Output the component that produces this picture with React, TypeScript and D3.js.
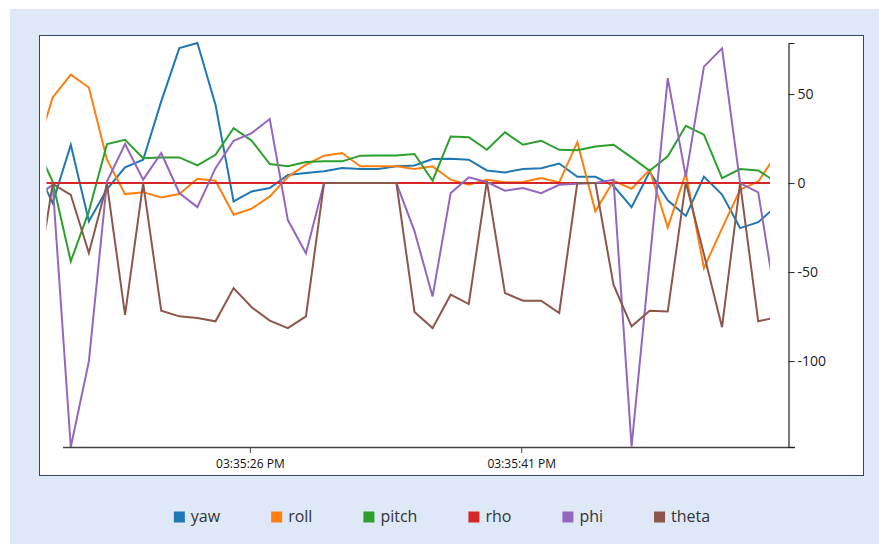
import React, { useEffect, useRef } from "react";
import * as d3 from "d3";

const times = [
  "15:35:14.100", "15:35:15.100", "15:35:16.100", "15:35:17.100", "15:35:18.100", "15:35:19.100",
  "15:35:20.100", "15:35:21.100", "15:35:22.100", "15:35:23.100", "15:35:24.100", "15:35:25.100",
  "15:35:26.100", "15:35:27.100", "15:35:28.100", "15:35:29.100", "15:35:30.100", "15:35:31.100",
  "15:35:32.100", "15:35:33.100", "15:35:34.100", "15:35:35.100", "15:35:36.100", "15:35:37.100",
  "15:35:38.100", "15:35:39.100", "15:35:40.100", "15:35:41.100", "15:35:42.100", "15:35:43.100",
  "15:35:44.100", "15:35:45.100", "15:35:46.100", "15:35:47.100", "15:35:48.100", "15:35:49.100",
  "15:35:50.100", "15:35:51.100", "15:35:52.100", "15:35:53.100", "15:35:54.100", "15:35:55.100",
];

const seriesNames = ["yaw", "roll", "pitch", "rho", "phi", "theta"];

const yaw = [10, -11.2, 21.5, -21.5, -3.5, 8.8, 13.1, 45.9, 75.8, 78.7, 44, -10.3, -4.7, -2.8, 4.5, 5.6, 6.6, 8.4, 7.9, 7.9, 9.4, 9.9, 13.5, 13.7, 13.1, 7.1, 6.0, 7.9, 8.3, 11, 3.5, 3.5, -1.5, -13.5, 6.3, -9.7, -18.5, 3.6, -6.5, -25.3, -22, -13];
const roll = [15, 48.1, 60.9, 53.7, 13.1, -6.2, -5.1, -8.1, -6.2, 2.4, 1.3, -17.8, -14.4, -7.5, 3.5, 10.3, 15.4, 16.9, 9.4, 9.4, 9.4, 7.9, 9.4, 1.9, -0.9, 1.9, 0.4, 0.6, 2.8, 0.4, 23, -15.9, 1.3, -3.2, 7.5, -24.9, 5.6, -47.8, -25.5, -3.7, 0.9, 15.9];
const pitch = [23, 0.7, -44, -15.9, 21.9, 24.3, 14, 14.4, 14.4, 9.9, 15.9, 30.9, 23.8, 10.7, 9.4, 11.8, 12.2, 12.2, 15.4, 15.5, 15.5, 16.3, 1.3, 26.2, 25.8, 18.7, 28.5, 21.5, 23.8, 18.7, 18.4, 20.6, 21.5, 14.4, 6.9, 15, 32.2, 27.2, 2.8, 7.9, 7.1, 0.5];
const rho = [0, 0, 0, 0, 0, 0, 0, 0, 0, 0, 0, 0, 0, 0, 0, 0, 0, 0, 0, 0, 0, 0, 0, 0, 0, 0, 0, 0, 0, 0, 0, 0, 0, 0, 0, 0, 0, 0, 0, 0, 0, 0];
const phi = [-8, -1, -148.3, -100.2, 0.9, 21.9, 1.9, 16.9, -5.6, -13.5, 8.4, 23.8, 28.1, 36, -20.8, -39.4, 0, 0, 0, 0, 0, -27, -63.7, -5.6, 3.2, 0.6, -4.3, -2.8, -5.7, -1, -0.4, 0, 1.9, -148, -44, 59, 3.5, 65.4, 75.7, 0, -5.2, -68];
const theta = [-65, -0.5, -6.6, -39.3, -0.5, -74, 0, -71.7, -74.9, -75.8, -77.7, -59, -69.8, -77.3, -81.5, -74.9, 0, 0, 0, 0, 0, -72.5, -81.5, -62.7, -68, 1, -61.8, -66.1, -66.1, -73, 0, 0, -57.1, -80.5, -71.7, -72.1, 0.5, -40, -81, 0, -77.7, -75.5];

const xTickValues = ["15:35:26", "15:35:41"];
const yTickValues = [50, 0, -50, -100];
const seriesColors = ["#1f77b4", "#ff7f0e", "#2ca02c", "#d62728", "#9467bd", "#8c564b"];

const FONT = "'Open Sans', sans-serif";

export default function App() {
  const ref = useRef<SVGSVGElement>(null);

  useEffect(() => {
    const svg = d3.select(ref.current);
    svg.selectAll("*").remove();

    const parseT = d3.timeParse("%H:%M:%S.%L");
    const parseTick = d3.timeParse("%H:%M:%S");
    const dates = times.map((t) => parseT(t) as Date);
    const seriesValues = [yaw, roll, pitch, rho, phi, theta];
    const series = seriesNames.map((name, i) => ({
      name,
      color: seriesColors[i],
      points: dates.map((d, j) => ({ t: d, v: seriesValues[i][j] })),
    }));

    const all = seriesValues.flat();
    const x = d3.scaleTime().domain(d3.extent(dates) as [Date, Date]).range([34.6, 776.3]);
    const y = d3.scaleLinear().domain(d3.extent(all) as [number, number]).range([447, 43]);

    // backgrounds
    svg.append("rect").attr("x", 10).attr("y", 9).attr("width", 880).attr("height", 540).attr("fill", "#dfe8f7");
    svg.append("rect").attr("x", 39.5).attr("y", 35.5).attr("width", 824).attr("height", 440)
      .attr("fill", "#ffffff").attr("stroke", "#34495e").attr("stroke-width", 1);

    const defs = svg.append("defs");
    defs.append("clipPath").attr("id", "plotclip").append("rect")
      .attr("x", 46.5).attr("y", 36).attr("width", 770 - 46.5).attr("height", 438);

    const line = d3.line<{ t: Date; v: number }>().x((d) => x(d.t)).y((d) => y(d.v));

    const lines = svg.append("g").attr("clip-path", "url(#plotclip)");
    series.forEach((s) => {
      lines.append("path").datum(s.points).attr("d", line)
        .attr("fill", "none").attr("stroke", s.color).attr("stroke-width", 2)
        .attr("stroke-linejoin", "miter");
    });

    // x axis
    const xAxisG = svg.append("g").attr("transform", "translate(0,447)");
    xAxisG.append("line").attr("x1", 63).attr("x2", 795).attr("y1", 0.5).attr("y2", 0.5)
      .attr("stroke", "#444").attr("stroke-width", 1.5);
    const xAxis = d3.axisBottom(x)
      .tickValues(xTickValues.map((t) => parseTick(t) as Date))
      .tickFormat(d3.timeFormat("%I:%M:%S %p") as any)
      .tickSize(6);
    const xg = xAxisG.append("g").call(xAxis);
    xg.select(".domain").remove();
    xg.attr("font-family", FONT).attr("font-size", 12);
    xg.selectAll(".tick line").attr("stroke", "#444");
    xg.selectAll(".tick text").attr("fill", "#111").attr("y", 21).attr("dy", "0");

    // y axis
    const yAxis = d3.axisRight(y).tickValues(yTickValues).tickSize(6).tickSizeOuter(6)
      .tickFormat((d: any) => String(d).replace("-", "-"));
    const yg = svg.append("g").attr("transform", "translate(788.5,0)").call(yAxis);
    yg.attr("font-family", FONT).attr("font-size", 14);
    yg.select(".domain").attr("stroke", "#222").attr("stroke-width", 1.2);
    yg.selectAll(".tick line").attr("stroke", "#222");
    yg.selectAll(".tick text").attr("fill", "#222");

    // legend
    const legend = svg.append("g").attr("font-family", FONT).attr("font-size", 16);
    const items = series.map((s) => {
      const g = legend.append("g");
      g.append("rect").attr("width", 11).attr("height", 11).attr("y", 511.5).attr("fill", s.color);
      const txt = g.append("text").attr("x", 17).attr("y", 522).attr("fill", "#333").text(s.name);
      const w = (txt.node() as SVGTextElement).getComputedTextLength();
      return { g, w: 17 + w };
    });
    const gap = 51;
    const total = d3.sum(items, (d) => d.w) + gap * (items.length - 1);
    let cx = 442 - total / 2;
    items.forEach((it) => {
      it.g.attr("transform", `translate(${cx},0)`);
      cx += it.w + gap;
    });
  }, []);

  return (
    <svg
      ref={ref}
      width={879}
      height={544}
      style={{ position: "absolute", left: 0, top: 0, display: "block" }}
    />
  );
}
